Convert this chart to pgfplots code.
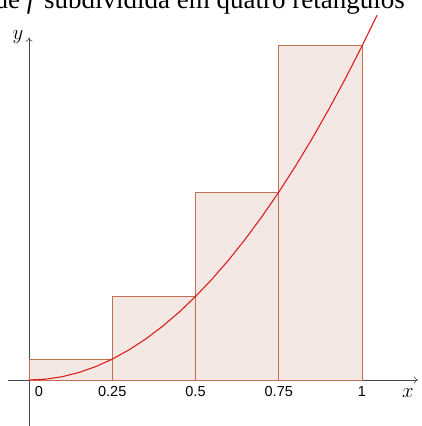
\documentclass[border=0pt]{standalone}
\usepackage{pgfplots}
\pgfplotsset{compat=1.18}
\usetikzlibrary{arrows.meta}
\usepackage{fontspec}
\setmainfont{Liberation Serif}
\newfontfamily\arialf{Liberation Sans}
\definecolor{rectfill}{RGB}{243,232,228}
\definecolor{rectedge}{RGB}{192,112,80}
\definecolor{curvered}{RGB}{222,30,30}
\definecolor{axisgray}{RGB}{70,70,70}
\begin{document}
\begin{tikzpicture}[x=1pt,y=1pt]
\begin{axis}[
  at={(0,0)}, anchor=origin,
  x=333pt, y=334pt,
  axis lines=middle,
  axis line style={axisgray, line width=0.6pt, -{To[length=4pt,width=7pt]}},
  xmin=-0.063, xmax=1.168,
  ymin=-0.14, ymax=1.025,
  clip=false,
  xtick={0.25,0.5,0.75,1},
  xticklabels={0.25,0.5,0.75,1},
  extra x ticks={0},
  extra x tick labels={0},
  extra x tick style={tick label style={xshift=10pt}},
  ytick=\empty,
  major tick length=0pt,
  xticklabel style={font=\arialf\fontsize{14.5}{16}\selectfont, yshift=-3pt},
  xlabel={$x$}, ylabel={$y$},
  every axis x label/.style={at={(axis cs:1.138,0)}, anchor=center, yshift=-13pt, font=\fontsize{20}{22}\selectfont},
  every axis y label/.style={at={(axis cs:0,1.025)}, anchor=center, xshift=-11pt, yshift=1pt, font=\fontsize{20}{22}\selectfont},
]
\addplot[ybar interval, fill=rectfill, draw=rectedge, line width=1pt, forget plot] coordinates {(0,0.0625) (0.25,0.25) (0.5,0.5625) (0.75,1) (1,1)};
\addplot[curvered, line width=1.1pt, no marks] table {
0 0
0.05 0.0025
0.1 0.01
0.15 0.0225
0.2 0.04
0.25 0.0625
0.3 0.09
0.35 0.1225
0.4 0.16
0.45 0.2025
0.5 0.25
0.55 0.3025
0.6 0.36
0.65 0.4225
0.7 0.49
0.75 0.5625
0.8 0.64
0.85 0.7225
0.9 0.81
0.95 0.9025
1 1
1.045 1.092
};
\coordinate (bl) at (axis cs:-0.0871,-0.1377);
\coordinate (tr) at (axis cs:1.1772,1.1377);
\coordinate (tt) at (axis cs:1.1291,1.1377);
\end{axis}
\fill[white] (tr) ++(-500pt,-11pt) rectangle ++(500pt,40pt);
\node[anchor=base east, inner sep=0pt, font=\fontsize{27}{30}\selectfont] at ([yshift=-9pt]tt) {de \textit{f} subdividida em quatro retângulos};
\pgfresetboundingbox
\path[use as bounding box] (bl) rectangle (tr);
\end{tikzpicture}
\end{document}
